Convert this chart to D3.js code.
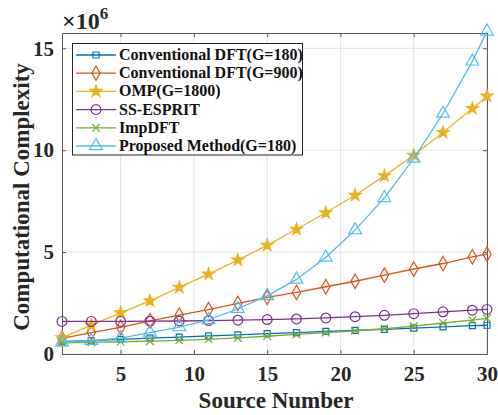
<!DOCTYPE html>
<html>
<head>
<meta charset="utf-8">
<script src="https://cdn.jsdelivr.net/npm/d3@7"></script>
<style>
  body { margin: 0; background: #fff; }
  svg text { font-family: "Liberation Serif", "Times New Roman", serif; font-weight: bold; }
</style>
</head>
<body>
<svg id="chart" width="498" height="415"></svg>
<script>
// source numbers (x axis)
var sources = [1, 3, 5, 7, 9, 11, 13, 15, 17, 19, 21, 23, 25, 27, 29, 30];

// complexity values, in units of 10^6
var dft180   = [0.62, 0.66, 0.72, 0.78, 0.83, 0.89, 0.94, 1.00, 1.05, 1.11, 1.16, 1.21, 1.27, 1.33, 1.39, 1.41];
var dft900   = [0.77, 1.05, 1.31, 1.63, 1.91, 2.18, 2.48, 2.78, 3.02, 3.30, 3.57, 3.87, 4.17, 4.44, 4.77, 4.90];
var omp      = [0.80, 1.42, 2.02, 2.61, 3.27, 3.92, 4.61, 5.33, 6.12, 6.93, 7.79, 8.74, 9.75, 10.87, 12.04, 12.65];
var ssesprit = [1.60, 1.60, 1.60, 1.61, 1.62, 1.64, 1.66, 1.69, 1.72, 1.77, 1.83, 1.90, 1.98, 2.07, 2.15, 2.19];
var impdft   = [0.55, 0.57, 0.60, 0.63, 0.67, 0.72, 0.79, 0.87, 0.96, 1.05, 1.14, 1.24, 1.37, 1.52, 1.66, 1.75];
var proposed = [0.58, 0.65, 0.78, 1.05, 1.32, 1.67, 2.22, 2.85, 3.66, 4.74, 6.08, 7.66, 9.59, 11.80, 14.36, 15.83];

var names = ["Conventional DFT(G=180)", "Conventional DFT(G=900)", "OMP(G=1800)", "SS-ESPRIT", "ImpDFT", "Proposed Method(G=180)"];
var colors = ["#0072BD", "#D95319", "#EDB120", "#7E2F8E", "#77AC30", "#4DBEEE"];
var xTicks = [5, 10, 15, 20, 25, 30];
var yTicks = [0, 5, 10, 15];

var series = [dft180, dft900, omp, ssesprit, impdft, proposed];
var shapes = [d3.symbolSquare, d3.symbolDiamond, d3.symbolStar, d3.symbolCircle, d3.symbolTimes || d3.symbolX, d3.symbolTriangle];
var sizes = [36, 60, 45, 75, 40, 70];

var plotL = 62, plotR = 487, plotT = 33, plotB = 354;
var svg = d3.select("#chart");

var x = d3.scaleLinear().domain([1, 30]).range([plotL, plotR]);
var y = d3.scaleLinear().domain([0, 15.75]).range([plotB, plotT]);

// grid
svg.append("g").selectAll("line").data(xTicks).enter().append("line")
    .attr("x1", d => x(d)).attr("x2", d => x(d))
    .attr("y1", plotT).attr("y2", plotB)
    .attr("stroke", "#e3e3e3").attr("stroke-width", 1);
svg.append("g").selectAll("line").data(yTicks).enter().append("line")
    .attr("x1", plotL).attr("x2", plotR)
    .attr("y1", d => y(d)).attr("y2", d => y(d))
    .attr("stroke", "#e3e3e3").attr("stroke-width", 1);

// axes, ticks inward, mirrored on top and right
svg.append("g").attr("transform", "translate(0," + plotB + ")")
    .call(d3.axisBottom(x).tickValues(xTicks).tickSizeInner(-4).tickSizeOuter(0).tickPadding(12));
svg.append("g").attr("transform", "translate(" + plotL + ",0)")
    .call(d3.axisLeft(y).tickValues(yTicks).tickSizeInner(-4).tickSizeOuter(0).tickPadding(8));
svg.append("g").attr("transform", "translate(0," + plotT + ")")
    .call(d3.axisTop(x).tickValues(xTicks).tickSizeInner(-4).tickSizeOuter(0).tickFormat(""));
svg.append("g").attr("transform", "translate(" + plotR + ",0)")
    .call(d3.axisRight(y).tickValues(yTicks).tickSizeInner(-4).tickSizeOuter(0).tickFormat(""));

svg.selectAll(".domain").attr("stroke", "#5a5a5a");
svg.selectAll(".tick line").attr("stroke", "#5a5a5a");
svg.selectAll(".tick text").attr("font-size", 21).attr("fill", "#262626")
    .attr("font-family", "Liberation Serif").attr("font-weight", "bold");

// series
var line = d3.line().x((d, i) => x(sources[i])).y(d => y(d));
for (var s = 0; s < series.length; s++) {
    svg.append("path").datum(series[s])
        .attr("d", line)
        .attr("fill", "none")
        .attr("stroke", colors[s])
        .attr("stroke-width", 1.3);
    var sym = d3.symbol().type(shapes[s]).size(sizes[s]);
    svg.append("g").selectAll("path").data(series[s]).enter().append("path")
        .attr("d", sym)
        .attr("transform", (d, i) => "translate(" + x(sources[i]) + "," + y(d) + ")")
        .attr("fill", s == 2 ? colors[s] : "none")
        .attr("stroke", colors[s])
        .attr("stroke-width", 1.2);
}

// multiplier
var mult = svg.append("text").attr("x", 62).attr("y", 29).attr("font-size", 24).attr("fill", "#262626")
    .attr("font-weight", "normal");
mult.append("tspan").text("\u00d710");
mult.append("tspan").text("6").attr("dy", -10).attr("font-size", 17);

// axis titles
svg.append("text").text("Computational Complexity")
    .attr("transform", "translate(29,197) rotate(-90)")
    .attr("text-anchor", "middle").attr("font-size", 23).attr("fill", "#262626");
svg.append("text").text("Source Number")
    .attr("x", 276).attr("y", 408)
    .attr("text-anchor", "middle").attr("font-size", 23).attr("fill", "#262626");

// legend
var lg = svg.append("g");
lg.append("rect").attr("x", 72.5).attr("y", 43.5).attr("width", 230).attr("height", 111.5)
    .attr("fill", "#fff").attr("stroke", "#262626").attr("stroke-width", 1);
for (var k = 0; k < names.length; k++) {
    var ly = 55 + k * 18.2;
    lg.append("line").attr("x1", 76).attr("x2", 116).attr("y1", ly).attr("y2", ly)
        .attr("stroke", colors[k]).attr("stroke-width", 1.3);
    lg.append("path").attr("d", d3.symbol().type(shapes[k]).size(sizes[k])())
        .attr("transform", "translate(96," + ly + ")")
        .attr("fill", k == 2 ? colors[k] : "none")
        .attr("stroke", colors[k]).attr("stroke-width", 1.2);
    lg.append("text").text(names[k]).attr("x", 119).attr("y", ly + 5)
        .attr("font-size", 16).attr("fill", "#111");
}
</script>
</body>
</html>
